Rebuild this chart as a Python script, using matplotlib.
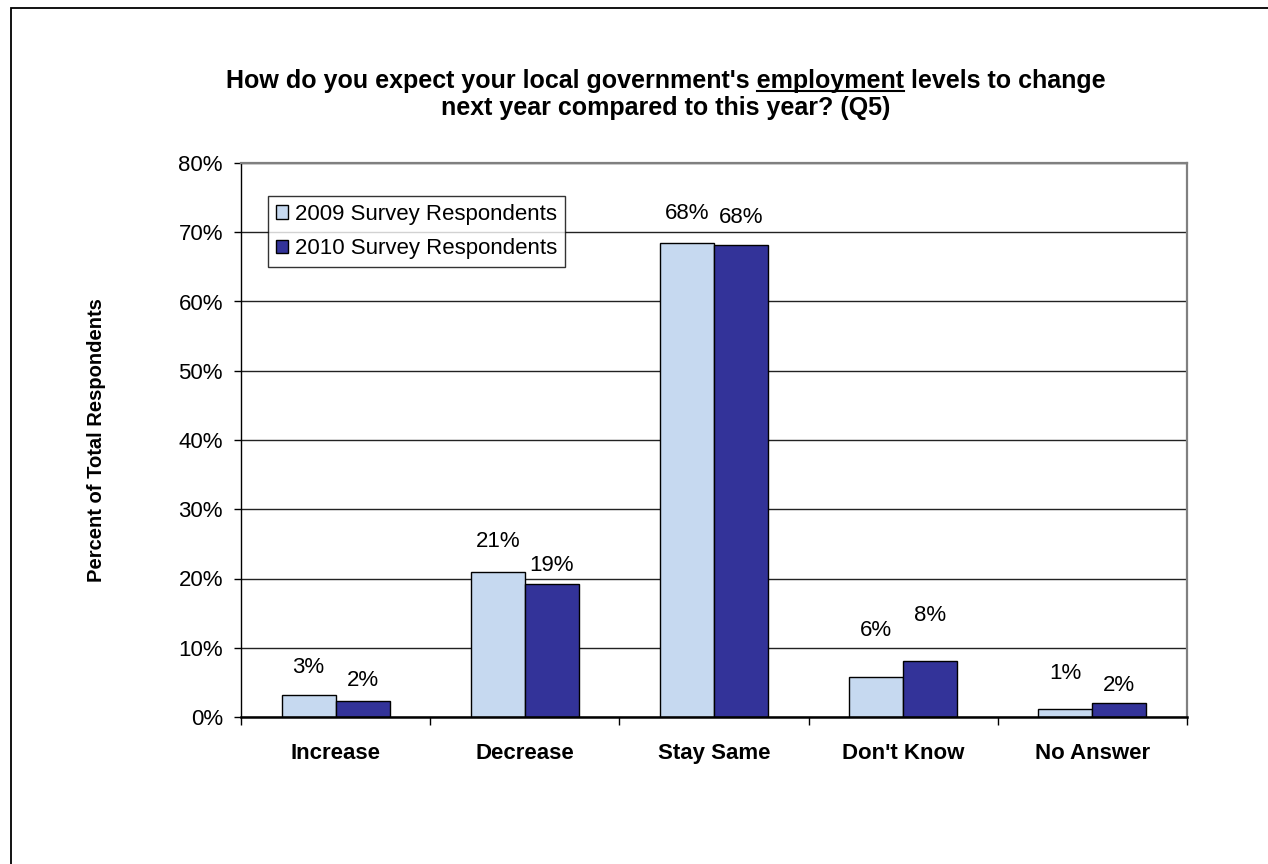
import matplotlib
matplotlib.use("Agg")
import matplotlib.pyplot as plt
from matplotlib.patches import Rectangle
from matplotlib.lines import Line2D
from matplotlib.ticker import FixedLocator, PercentFormatter

plt.rcParams['font.family'] = ['Liberation Sans', 'DejaVu Sans']

categories = ["Increase", "Decrease", "Stay Same", "Don't Know", "No Answer"]
series_names = ["2009 Survey Respondents", "2010 Survey Respondents"]
values_2009 = [3.2, 20.9, 68.4, 5.8, 1.2]
values_2010 = [2.3, 19.2, 68.2, 8.1, 2.0]
y_ticks = [0, 10, 20, 30, 40, 50, 60, 70, 80]

# distance (px) from each bar top to the centre of its value label
label_gap_2009 = [27, 31, 30, 46, 35]
label_gap_2010 = [21, 19, 27, 45, 18]

colors = ["#C6D9F0", "#333399"]

W, H = 1268, 864
fig = plt.figure(figsize=(W / 100, H / 100), dpi=100)

# outer chart frame (only top and left edges fall inside the canvas)
fig.patches.append(Rectangle((11 / W, -0.2), 1.5, 1.2 - 8 / H,
                             transform=fig.transFigure, fill=False,
                             edgecolor="black", linewidth=1.3))

ax = fig.add_axes([241 / W, 1 - 717 / H, 946 / W, 554 / H])

bar_w = 0.285
x = list(range(len(categories)))
b1 = ax.bar([i - bar_w / 2 for i in x], values_2009, width=bar_w,
            color=colors[0], edgecolor="black", linewidth=1.0, zorder=3,
            label=series_names[0])
b2 = ax.bar([i + bar_w / 2 for i in x], values_2010, width=bar_w,
            color=colors[1], edgecolor="black", linewidth=1.0, zorder=3,
            label=series_names[1])

for bars, vals, gaps in ((b1, values_2009, label_gap_2009),
                         (b2, values_2010, label_gap_2010)):
    for rect, v, g in zip(bars, vals, gaps):
        ax.annotate(f"{round(v):d}%",
                    (rect.get_x() + rect.get_width() / 2, v),
                    xytext=(0, g * 0.72), textcoords="offset points",
                    ha="center", va="center", fontsize=16, color="black")

ax.set_xlim(-0.5, len(categories) - 0.5)
ax.set_ylim(0, 80)
ax.set_yticks(y_ticks)
ax.yaxis.set_major_formatter(PercentFormatter(decimals=0))
ax.tick_params(axis="y", length=5, width=1, pad=8, labelsize=16,
               direction="out", color="black")

ax.set_xticks(x)
ax.set_xticklabels(categories, fontsize=16, fontweight="bold")
ax.tick_params(axis="x", which="major", length=0, pad=19)
ax.xaxis.set_minor_locator(FixedLocator([i - 0.5 for i in range(len(categories) + 1)]))
ax.tick_params(axis="x", which="minor", length=6, width=1, direction="out",
               color="black")

ax.grid(axis="y", color="#222222", linewidth=1.0, zorder=0)
ax.set_axisbelow(True)

ax.spines["left"].set_color("black")
ax.spines["left"].set_linewidth(1.0)
ax.spines["bottom"].set_color("black")
ax.spines["bottom"].set_linewidth(1.8)
ax.spines["bottom"].set_zorder(4)
for s in ("top", "right"):
    ax.spines[s].set_color("#808080")
    ax.spines[s].set_linewidth(1.6)

ax.set_ylabel("Percent of Total Respondents", fontsize=14.5,
              fontweight="bold", labelpad=0)
ax.yaxis.set_label_coords((106 - 241) / 946, 0.5)

leg = ax.legend(loc="upper left", bbox_to_anchor=((268 - 241) / 946, (717 - 196) / 554),
                borderaxespad=0, fontsize=16, frameon=True, fancybox=False,
                edgecolor="black", handlelength=0.55, handleheight=0.55,
                handletextpad=0.3, borderpad=0.36, labelspacing=0.6)
leg.get_frame().set_linewidth(1.0)
leg.set_zorder(5)

# two-line title with the key word underlined
title_size = 18
title_1 = "How do you expect your local government's employment levels to change"
title_2 = "next year compared to this year? (Q5)"
word = "employment"
tx = 666 / W
t1 = fig.text(tx, 1 - 81 / H, title_1, ha="center", va="center",
              fontsize=title_size, fontweight="bold")
fig.text(tx, 1 - 108 / H, title_2, ha="center", va="center",
         fontsize=title_size, fontweight="bold")

fig.canvas.draw()
renderer = fig.canvas.get_renderer()


def text_width(s):
    t = fig.text(0, 0, s, fontsize=title_size, fontweight="bold")
    w = t.get_window_extent(renderer).width
    t.remove()
    return w


bb = t1.get_window_extent(renderer)
head = title_1[: title_1.index(word) + len(word)]
x_end = bb.x0 + text_width(head)
x_start = x_end - text_width(word)
y_line = bb.y0 + 2
fig.add_artist(Line2D([x_start / W, x_end / W], [y_line / H, y_line / H],
                      transform=fig.transFigure, color="black", linewidth=1.5))

fig.savefig("out.png", dpi=100)
